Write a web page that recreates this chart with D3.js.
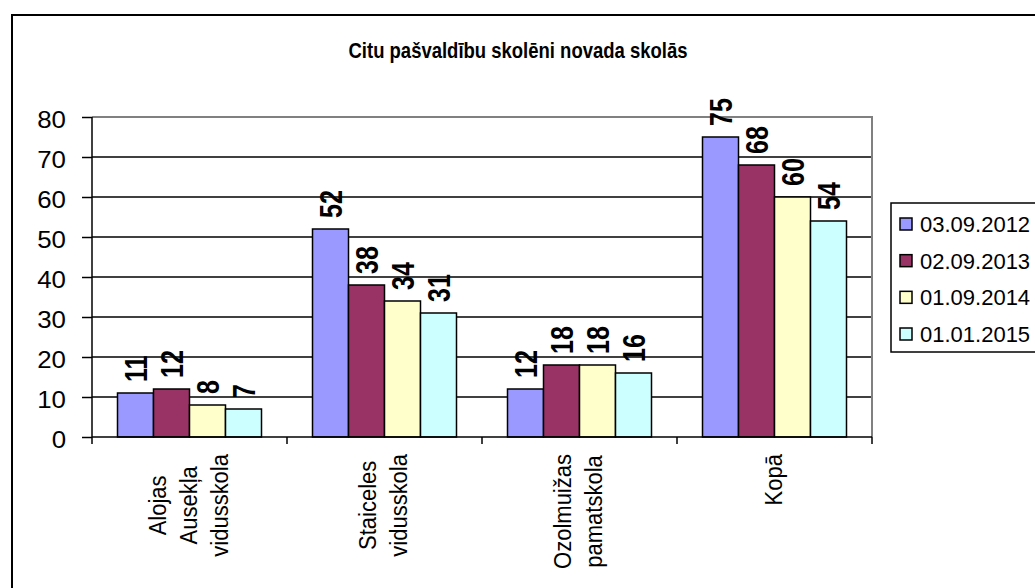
<!DOCTYPE html>
<html>
<head>
<meta charset="utf-8">
<script src="https://cdnjs.cloudflare.com/ajax/libs/d3/7.8.5/d3.min.js"></script>
<style>
  html, body { margin: 0; padding: 0; background: #fff; }
  svg text { font-family: "Liberation Sans", Arial, sans-serif; fill: #000; }
</style>
</head>
<body>
<svg id="chart" width="1035" height="588"></svg>
<script>
const title = "Citu pašvaldību skolēni novada skolās";
const categories = [
  ["Alojas", "Ausekļa", "vidusskola"],
  ["Staiceles", "vidusskola"],
  ["Ozolmuižas", "pamatskola"],
  ["Kopā"]
];
const seriesNames = ["03.09.2012", "02.09.2013", "01.09.2014", "01.01.2015"];
const seriesColors = ["#9999FF", "#993366", "#FFFFCC", "#CCFFFF"];
const values2012 = [11, 52, 12, 75];
const values2013 = [12, 38, 18, 68];
const values2014 = [8, 34, 18, 60];
const values2015 = [7, 31, 16, 54];
const yTicks = [0, 10, 20, 30, 40, 50, 60, 70, 80];

const series = [values2012, values2013, values2014, values2015];
const svg = d3.select("#chart");

// outer frame
svg.append("rect").attr("x", 12).attr("y", 15).attr("width", 1040).attr("height", 600)
  .attr("fill", "#fff").attr("stroke", "#000").attr("stroke-width", 2);

svg.append("text").attr("transform", "translate(518,58) scale(1.0,1.15)").attr("text-anchor", "middle")
  .attr("font-size", 18.5).attr("font-weight", "bold").text(title);

const plot = {left: 92, right: 872, top: 117, bottom: 437};
const x0 = d3.scaleBand().domain(d3.range(categories.length))
  .range([plot.left, plot.right]).paddingInner(0).paddingOuter(0);
const groupPad = 25.5;
const x1 = d3.scaleBand().domain(d3.range(seriesNames.length))
  .range([0, x0.bandwidth() - 2 * groupPad]);
const y = d3.scaleLinear().domain([0, 80]).range([plot.bottom, plot.top]);

// gridlines
svg.append("g").selectAll("line").data(yTicks.filter(t => t > 0 && t < 80)).join("line")
  .attr("x1", plot.left).attr("x2", plot.right)
  .attr("y1", d => y(d)).attr("y2", d => y(d))
  .attr("stroke", "#000").attr("stroke-width", 1.4);

// plot border top/right grey
svg.append("path")
  .attr("d", `M${plot.left},${plot.top}H${plot.right}V${plot.bottom}`)
  .attr("fill", "none").attr("stroke", "#808080").attr("stroke-width", 2);

// bars
series.forEach((vals, si) => {
  svg.append("g").selectAll("rect").data(vals).join("rect")
    .attr("x", (d, i) => x0(i) + groupPad + x1(si))
    .attr("y", d => y(d))
    .attr("width", x1.bandwidth())
    .attr("height", d => y(0) - y(d))
    .attr("fill", seriesColors[si])
    .attr("stroke", "#000").attr("stroke-width", 1.5);
});

// data labels
series.forEach((vals, si) => {
  svg.append("g").selectAll("text").data(vals).join("text")
    .attr("transform", (d, i) => `translate(${x0(i) + groupPad + x1(si) + x1.bandwidth() / 2},${y(d) - 11}) rotate(-90) scale(1,1.25)`)
    .attr("dominant-baseline", "central")
    .attr("font-size", 25).attr("font-weight", "bold")
    .text(d => d);
});

// y axis
const yAxis = d3.axisLeft(y).tickValues(yTicks).tickSize(10).tickPadding(16);
const gy = svg.append("g").attr("transform", `translate(${plot.left},0)`).call(yAxis);
gy.select(".domain").attr("stroke", "#000").attr("stroke-width", 1.5).attr("d", `M0,${plot.top}V${plot.bottom}`);
gy.selectAll(".tick line").attr("stroke", "#000").attr("stroke-width", 1.5);
gy.selectAll(".tick text").attr("font-size", 23.5).attr("fill", "#000")
  .attr("font-family", "Liberation Sans, Arial, sans-serif")
  .attr("transform", "translate(-26,2.5) scale(1.1,1)").attr("x", 0).attr("dy", "0.36em");

// x axis
const xTickPos = d3.range(categories.length + 1).map(i => plot.left + i * x0.bandwidth());
svg.append("line").attr("x1", plot.left).attr("x2", plot.right)
  .attr("y1", plot.bottom).attr("y2", plot.bottom).attr("stroke", "#000").attr("stroke-width", 1.5);
svg.append("g").selectAll("line").data(xTickPos).join("line")
  .attr("x1", d => d).attr("x2", d => d)
  .attr("y1", plot.bottom).attr("y2", plot.bottom + 7)
  .attr("stroke", "#000").attr("stroke-width", 1.5);

// category labels (rotated, lines centered, block top-aligned)
const lineGap = 31;
const blockTop = 454;
categories.forEach((lines, ci) => {
  const cx = x0(ci) + x0.bandwidth() / 2;
  const g = svg.append("g");
  const texts = lines.map((ln, li) => g.append("text").attr("font-size", 22).text(ln));
  const maxLen = d3.max(texts, t => t.node().getComputedTextLength());
  const cy = blockTop + maxLen / 2;
  texts.forEach((t, li) => {
    const bx = cx + (li - (lines.length - 1) / 2) * lineGap + 7;
    t.attr("text-anchor", "middle").attr("transform", `translate(${bx},${cy}) rotate(-90) scale(1,1.12)`);
  });
});

// legend
const legend = svg.append("g");
legend.append("rect").attr("x", 891).attr("y", 203).attr("width", 160).attr("height", 149)
  .attr("fill", "#fff").attr("stroke", "#000").attr("stroke-width", 1.5);
const ly = d3.scalePoint().domain(d3.range(seriesNames.length)).range([224, 334]);
seriesNames.forEach((name, i) => {
  legend.append("rect").attr("x", 900).attr("y", ly(i) - 6).attr("width", 12).attr("height", 12)
    .attr("fill", seriesColors[i]).attr("stroke", "#000").attr("stroke-width", 1.5);
  legend.append("text").attr("x", 920).attr("y", ly(i)).attr("dy", "0.36em")
    .attr("font-size", 22).text(name);
});
</script>
</body>
</html>
